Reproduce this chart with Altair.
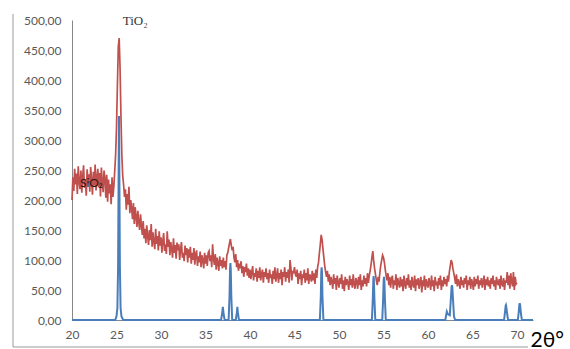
import altair as alt
import pandas as pd

# Red pattern (SiO2/TiO2 sample), sampled every 0.1 deg from 20.0 to 70.0
red_start = 20.0
red_step = 0.1
red_rows = [
    [200, 238, 215, 252, 226, 244, 210, 256, 231, 218],  # 20
    [249, 212, 240, 258, 220, 235, 207, 251, 228, 243],  # 21
    [214, 255, 233, 209, 247, 224, 259, 216, 238, 252],  # 22
    [221, 245, 206, 254, 230, 213, 249, 236, 204, 242],  # 23
    [197, 234, 211, 226, 193, 238, 205, 222, 248, 275],  # 24
    [320, 390, 455, 470, 420, 340, 275, 240, 225, 205],  # 25
    [218, 184, 210, 192, 222, 178, 200, 186, 168, 195],  # 26
    [160, 188, 172, 155, 182, 163, 150, 176, 158, 142],  # 27
    [165, 136, 152, 128, 158, 140, 125, 150, 133, 160],  # 28
    [122, 146, 130, 118, 152, 127, 140, 116, 148, 124],  # 29
    [138, 112, 131, 145, 115, 126, 110, 148, 122, 134],  # 30
    [108, 130, 118, 104, 136, 112, 125, 102, 129, 116],  # 31
    [126, 100, 118, 130, 104, 112, 98, 124, 108, 120],   # 32
    [96, 118, 104, 122, 94, 112, 100, 120, 92, 110],     # 33
    [116, 90, 106, 96, 114, 88, 108, 100, 86, 112],      # 34
    [94, 108, 90, 112, 115, 98, 108, 88, 126, 102],      # 35
    [92, 110, 84, 104, 96, 82, 106, 90, 100, 86],        # 36
    [104, 88, 98, 84, 108, 112, 120, 128, 135, 124],     # 37
    [116, 122, 104, 96, 110, 88, 100, 82, 94, 86],       # 38
    [98, 78, 90, 72, 88, 80, 94, 74, 86, 70],            # 39
    [84, 68, 80, 90, 66, 78, 72, 86, 64, 82],            # 40
    [70, 88, 66, 76, 84, 62, 80, 72, 86, 68],            # 41
    [78, 62, 84, 70, 76, 60, 82, 68, 88, 64],            # 42
    [74, 86, 62, 78, 68, 84, 58, 80, 72, 88],            # 43
    [64, 80, 70, 84, 62, 100, 86, 66, 82, 78],           # 44
    [88, 76, 72, 84, 60, 78, 68, 82, 58, 76],            # 45
    [70, 84, 62, 78, 66, 86, 60, 76, 72, 64],            # 46
    [82, 66, 78, 60, 84, 70, 88, 96, 112, 126],          # 47
    [142, 134, 118, 104, 90, 80, 72, 82, 64, 76],        # 48
    [58, 72, 64, 52, 76, 60, 70, 50, 74, 62],            # 49
    [54, 70, 60, 76, 52, 66, 48, 72, 58, 68],            # 50
    [62, 50, 74, 58, 68, 54, 76, 60, 52, 70],            # 51
    [64, 52, 72, 58, 76, 50, 66, 56, 74, 60],            # 52
    [70, 56, 78, 62, 74, 82, 92, 104, 115, 98],          # 53
    [86, 76, 66, 58, 72, 64, 80, 92, 100, 108],          # 54
    [104, 96, 84, 74, 66, 78, 58, 72, 54, 68],           # 55
    [74, 52, 66, 58, 76, 50, 70, 62, 54, 72],            # 56
    [56, 68, 48, 74, 60, 52, 70, 58, 76, 54],            # 57
    [66, 50, 72, 60, 54, 74, 48, 68, 58, 70],            # 58
    [52, 64, 72, 46, 66, 56, 74, 50, 68, 60],            # 59
    [54, 70, 62, 50, 74, 56, 66, 48, 72, 58],            # 60
    [64, 52, 70, 58, 74, 50, 66, 56, 72, 60],            # 61
    [68, 56, 74, 64, 80, 90, 100, 96, 86, 78],           # 62
    [70, 60, 76, 56, 68, 62, 52, 72, 58, 66],            # 63
    [54, 70, 60, 74, 50, 66, 58, 72, 52, 68],            # 64
    [62, 50, 72, 56, 68, 60, 74, 52, 66, 58],            # 65
    [70, 54, 64, 74, 50, 68, 58, 72, 56, 66],            # 66
    [52, 70, 60, 74, 56, 66, 50, 72, 62, 58],            # 67
    [68, 52, 74, 60, 56, 70, 50, 66, 62, 80],            # 68
    [58, 74, 52, 78, 64, 56, 80, 50, 72, 60],            # 69
    [62],                                                # 70
]
red_y = [v for row in red_rows for v in row]

# Blue reference pattern (TiO2 anatase) as explicit points
blue_x = [20.0, 24.85, 25.0, 25.1, 25.18, 25.24, 25.28, 25.32, 25.38, 25.46, 25.56, 25.75,
          36.75, 36.88, 36.95, 37.02, 37.15,
          37.6, 37.7, 37.76, 37.8, 37.84, 37.9, 38.0,
          38.4, 38.52, 38.58, 38.64, 38.76,
          47.85, 47.96, 48.01, 48.05, 48.09, 48.14, 48.25,
          53.7, 53.8, 53.86, 53.89, 53.92, 53.98, 54.08,
          54.86, 54.96, 55.02, 55.06, 55.1, 55.16, 55.26,
          61.95, 62.05, 62.12, 62.22, 62.45, 62.57, 62.65, 62.69, 62.73, 62.81, 62.92, 63.05,
          68.55, 68.66, 68.73, 68.76, 68.8, 68.9, 69.0,
          70.1, 70.2, 70.27, 70.31, 70.35, 70.45, 70.55,
          71.8]
blue_y = [0, 0, 6, 20, 90, 250, 340, 250, 90, 20, 6, 0,
          0, 12, 22, 12, 0,
          0, 40, 85, 95, 85, 40, 0,
          0, 12, 22, 12, 0,
          0, 40, 80, 88, 80, 40, 0,
          0, 35, 68, 73, 68, 35, 0,
          0, 35, 66, 72, 66, 35, 0,
          0, 9, 14, 10, 8, 35, 55, 58, 55, 35, 6, 0,
          0, 14, 24, 25, 22, 10, 0,
          0, 14, 26, 28, 25, 10, 0,
          0]

x_ticks = [20, 25, 30, 35, 40, 45, 50, 55, 60, 65, 70]
y_ticks = [0, 50, 100, 150, 200, 250, 300, 350, 400, 450, 500]

labels = ["TiO₂", "SiO₂"]
label_x = [25.7, 20.9]
label_y = [498, 228]

red_df = pd.DataFrame({
    "x": [round(red_start + red_step * i, 2) for i in range(len(red_y))],
    "y": red_y,
})
blue_df = pd.DataFrame({"x": blue_x, "y": blue_y})

W, H = 461, 300
PAD_L, PAD_T = 72, 20

xscale = alt.Scale(domain=[20, 71.8], nice=False, zero=False)
yscale = alt.Scale(domain=[0, 500], nice=False)

xaxis = alt.Axis(
    values=x_ticks, ticks=False, grid=False, labelPadding=9,
    labelFlush=False, labelOverlap=False,
    labelFont="Lato", labelFontSize=12, labelColor="#595959",
    domainColor="#868686",
    title="2θ°", titleX=458, titleY=26, titleAlign="left",
    titleBaseline="alphabetic", titleFont="Lato", titleFontSize=21,
    titleFontWeight="normal", titleColor="#000000", titleAnchor="start",
)
yaxis = alt.Axis(
    values=y_ticks, tickCount=11, ticks=False, grid=False, labelPadding=11,
    labelFlush=False, labelOverlap=False,
    labelExpr="replace(format(datum.value, '.2f'), '.', ',')",
    labelFont="Lato", labelFontSize=12, labelColor="#595959",
    domainColor="#868686", title=None,
)

X = alt.X("x:Q", scale=xscale, axis=xaxis)
Y = alt.Y("y:Q", scale=yscale, axis=yaxis)

red = alt.Chart(red_df).mark_line(color="#c0504d", strokeWidth=1.7).encode(x=X, y=Y)
blue = alt.Chart(blue_df).mark_line(color="#4a7ebb", strokeWidth=2).encode(x=X, y=Y)

ann_df = pd.DataFrame({"label": labels, "x": label_x, "y": label_y})
ann_tio2 = alt.Chart(ann_df.iloc[[0]]).mark_text(
    align="left", baseline="middle", font="Liberation Serif", fontSize=13, color="#333333"
).encode(x=X, y=Y, text="label:N")
ann_sio2 = alt.Chart(ann_df.iloc[[1]]).mark_text(
    align="left", baseline="middle", font="Lato", fontSize=12, color="#2b1414"
).encode(x=X, y=Y, text="label:N")

# chart-area frame (left and bottom edges)
frame_left = alt.Chart(pd.DataFrame({"a": [0]})).mark_rule(color="#9a9a9a", strokeWidth=1).encode(
    x=alt.value(13 - PAD_L), y=alt.value(14 - PAD_T), y2=alt.value(347 - PAD_T)
)
frame_bottom = alt.Chart(pd.DataFrame({"a": [0]})).mark_rule(color="#9a9a9a", strokeWidth=1).encode(
    x=alt.value(13 - PAD_L), x2=alt.value(528 - PAD_L), y=alt.value(347 - PAD_T)
)

chart = alt.layer(red, blue, ann_tio2, ann_sio2, frame_left, frame_bottom).properties(
    width=W, height=H,
    autosize=alt.AutoSizeParams(type="none"),
    padding={"left": PAD_L, "top": PAD_T, "right": 570 - PAD_L - W, "bottom": 349 - PAD_T - H},
    background="white",
).configure_view(stroke="transparent")

chart.save("out.html", embed_options={"renderer": "svg", "actions": False})
